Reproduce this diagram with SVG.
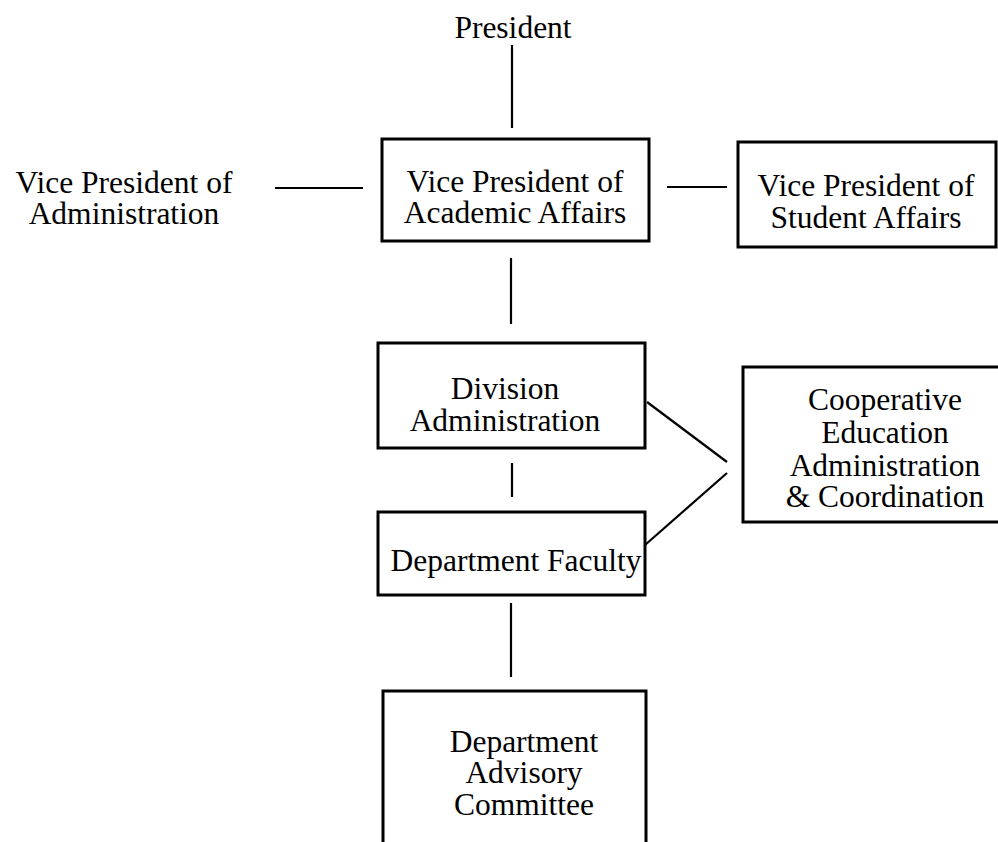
<svg xmlns="http://www.w3.org/2000/svg" width="998" height="842" viewBox="0 0 998 842">
<style>
  .box { fill: #ffffff; stroke: #000000; stroke-width: 3; }
  .t { font-family: "Liberation Serif", "Times New Roman", serif; font-size: 31.5px; fill: #000000; text-anchor: middle; }
  .c { stroke: #000000; stroke-width: 2.2; fill: none; }
</style>
<rect width="998" height="842" fill="#ffffff"/>
<g id="connectors">
  <line class="c" x1="512" y1="45" x2="512" y2="128"/>
  <line class="c" x1="275" y1="188" x2="363" y2="188"/>
  <line class="c" x1="667" y1="187" x2="727" y2="187"/>
  <line class="c" x1="511" y1="258" x2="511" y2="324"/>
  <line class="c" x1="512" y1="463" x2="512" y2="497"/>
  <line class="c" x1="511" y1="603" x2="511" y2="677"/>
  <line class="c" x1="647" y1="402" x2="727" y2="462"/>
  <line class="c" x1="727" y1="473" x2="645" y2="545"/>
</g>
<g id="president">
  <text class="t" x="513" y="38">President</text>
</g>
<g id="vp-administration">
  <text class="t" x="124" y="193">Vice President of</text>
  <text class="t" x="124" y="224">Administration</text>
</g>
<g id="vp-academic">
  <rect class="box" x="382" y="139" width="267" height="102"/>
  <text class="t" x="515" y="192">Vice President of</text>
  <text class="t" x="515" y="223">Academic Affairs</text>
</g>
<g id="vp-student">
  <rect class="box" x="738" y="142" width="258" height="105"/>
  <text class="t" x="866" y="196">Vice President of</text>
  <text class="t" x="866" y="228">Student Affairs</text>
</g>
<g id="division-administration">
  <rect class="box" x="378" y="343" width="267" height="105"/>
  <text class="t" x="505" y="399">Division</text>
  <text class="t" x="505" y="431">Administration</text>
</g>
<g id="department-faculty">
  <rect class="box" x="378" y="512" width="267" height="83"/>
  <text class="t" x="516" y="571">Department Faculty</text>
</g>
<g id="cooperative-education">
  <rect class="box" x="743" y="367" width="260" height="155"/>
  <text class="t" x="885" y="410">Cooperative</text>
  <text class="t" x="885" y="443">Education</text>
  <text class="t" x="885" y="476">Administration</text>
  <text class="t" x="885" y="507">&amp; Coordination</text>
</g>
<g id="department-advisory-committee">
  <rect class="box" x="383" y="691" width="263" height="160"/>
  <text class="t" x="524" y="752">Department</text>
  <text class="t" x="524" y="783">Advisory</text>
  <text class="t" x="524" y="815">Committee</text>
</g>
</svg>
